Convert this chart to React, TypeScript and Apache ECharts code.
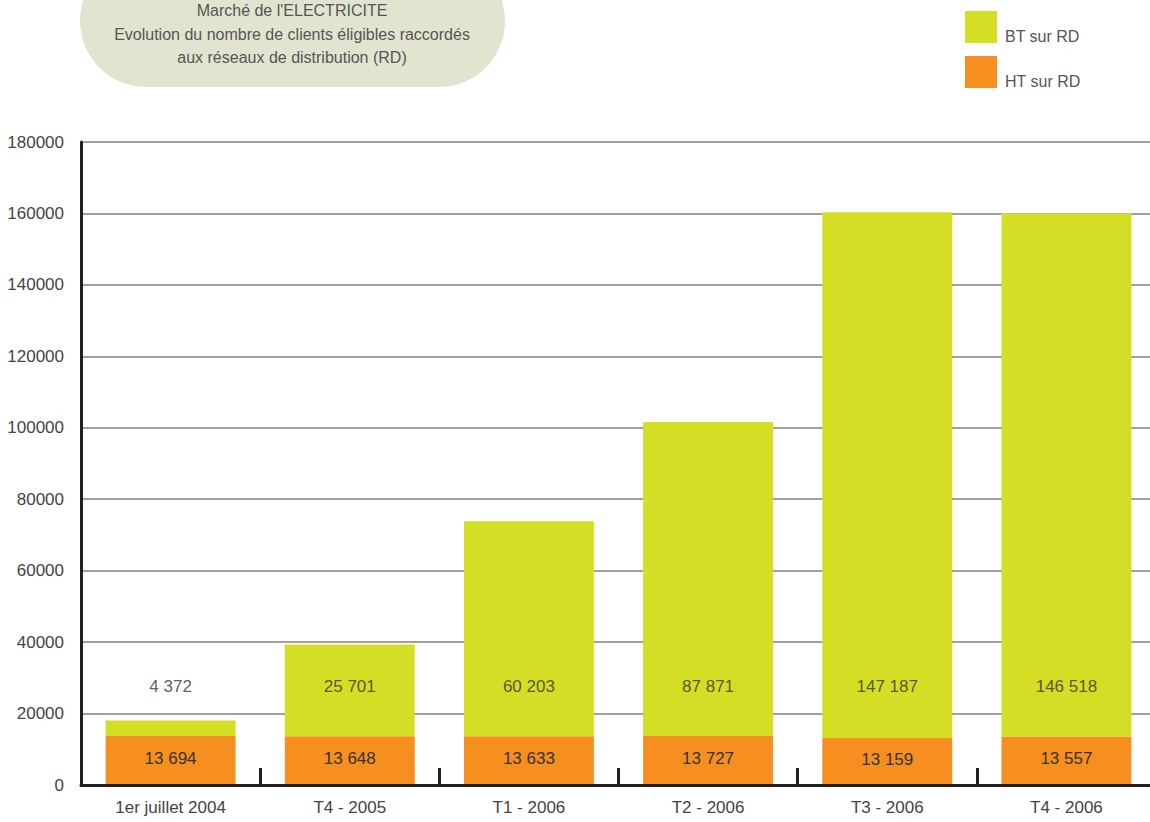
import React, { useEffect, useRef } from "react";
import * as echarts from "echarts";

const categories = ["1er juillet 2004", "T4 - 2005", "T1 - 2006", "T2 - 2006", "T3 - 2006", "T4 - 2006"];
const htValues = [13694, 13648, 13633, 13727, 13159, 13557];
const btValues = [4372, 25701, 60203, 87871, 147187, 146518];
const btLabelLevel = 27700;
const yTicks = { min: 0, max: 180000, interval: 20000 };
const titleLines = [
  "Marché de l'ELECTRICITE",
  "Evolution du nombre de clients éligibles raccordés",
  "aux réseaux de distribution (RD)",
];
const seriesNames = { bt: "BT sur RD", ht: "HT sur RD" };

const FONT = "'Liberation Sans Narrow', 'Liberation Sans', Arial, sans-serif";
const BT_COLOR = "#d3de24";
const HT_COLOR = "#f68f1f";
const TEXT = "#444";

const fmt = (v: number) => String(v).replace(/\B(?=(\d{3})+(?!\d))/g, " ");

export default function App() {
  const ref = useRef<HTMLDivElement>(null);
  useEffect(() => {
    if (!ref.current) return;
    const chart = echarts.init(ref.current, null, { renderer: "svg" });
    chart.setOption({
      animation: false,
      backgroundColor: "#ffffff",
      textStyle: { fontFamily: FONT },
      grid: {
        left: 81,
        right: -6,
        top: 142,
        bottom: 37,
        containLabel: false,
        outerBoundsMode: "none",
      },
      graphic: [
        {
          type: "rect",
          shape: { x: 80, y: -45, width: 425, height: 132, r: 66 },
          style: { fill: "#e1e5d0" },
          z: 0,
        },
        {
          type: "text",
          x: 292,
          y: 34,
          style: {
            text: titleLines.join("\n"),
            fontFamily: FONT,
            fontSize: 16,
            lineHeight: 23.5,
            fill: "#555",
            align: "center",
            verticalAlign: "middle",
          },
          z: 1,
        },
        {
          type: "rect",
          shape: { x: 965, y: 11, width: 32, height: 32 },
          style: { fill: BT_COLOR },
        },
        {
          type: "text",
          x: 1005,
          y: 36,
          style: {
            text: seriesNames.bt,
            fontFamily: FONT,
            fontSize: 16,
            fill: "#555",
            align: "left",
            verticalAlign: "middle",
          },
        },
        {
          type: "rect",
          shape: { x: 965, y: 56, width: 32, height: 32 },
          style: { fill: HT_COLOR },
        },
        {
          type: "text",
          x: 1005,
          y: 81,
          style: {
            text: seriesNames.ht,
            fontFamily: FONT,
            fontSize: 16,
            fill: "#555",
            align: "left",
            verticalAlign: "middle",
          },
        },
      ],
      xAxis: {
        type: "category",
        data: categories,
        boundaryGap: true,
        axisLine: { show: true, lineStyle: { color: "#231f20", width: 3 } },
        axisTick: { show: true, inside: true, length: 17, lineStyle: { color: "#231f20", width: 3 } },
        axisLabel: { fontFamily: FONT, fontSize: 17, color: TEXT, margin: 14 },
        splitLine: { show: false },
        z: 5,
      },
      yAxis: {
        type: "value",
        min: yTicks.min,
        max: yTicks.max,
        interval: yTicks.interval,
        axisLine: { show: true, lineStyle: { color: "#231f20", width: 3 } },
        axisTick: { show: false },
        axisLabel: {
          fontFamily: FONT,
          fontSize: 17,
          color: TEXT,
          margin: 17,
          formatter: (v: number) => String(v),
        },
        splitLine: { show: true, lineStyle: { color: "#a0a0a0", width: 2 } },
      },
      series: [
        {
          name: seriesNames.ht,
          type: "bar",
          stack: "total",
          data: htValues,
          barWidth: "72.5%",
          itemStyle: { color: HT_COLOR },
          label: {
            show: true,
            position: "inside",
            offset: [0, -2],
            formatter: (p: any) => fmt(p.value),
            fontFamily: FONT,
            fontSize: 17,
            color: "#333",
          },
          z: 3,
        },
        {
          name: seriesNames.bt,
          type: "bar",
          stack: "total",
          data: btValues,
          barWidth: "72.5%",
          itemStyle: { color: BT_COLOR },
          z: 3,
        },
        {
          name: "btLabels",
          type: "scatter",
          data: categories.map(() => btLabelLevel),
          symbolSize: 0,
          silent: true,
          label: {
            show: true,
            position: "inside",
            formatter: (p: any) => fmt(btValues[p.dataIndex]),
            fontFamily: FONT,
            fontSize: 17,
            color: "#333",
          },
          z: 4,
        },
      ],
    });
    return () => chart.dispose();
  }, []);
  return (
    <div
      ref={ref}
      style={{ position: "absolute", left: 0, top: 0, width: 1150, height: 822 }}
    />
  );
}
